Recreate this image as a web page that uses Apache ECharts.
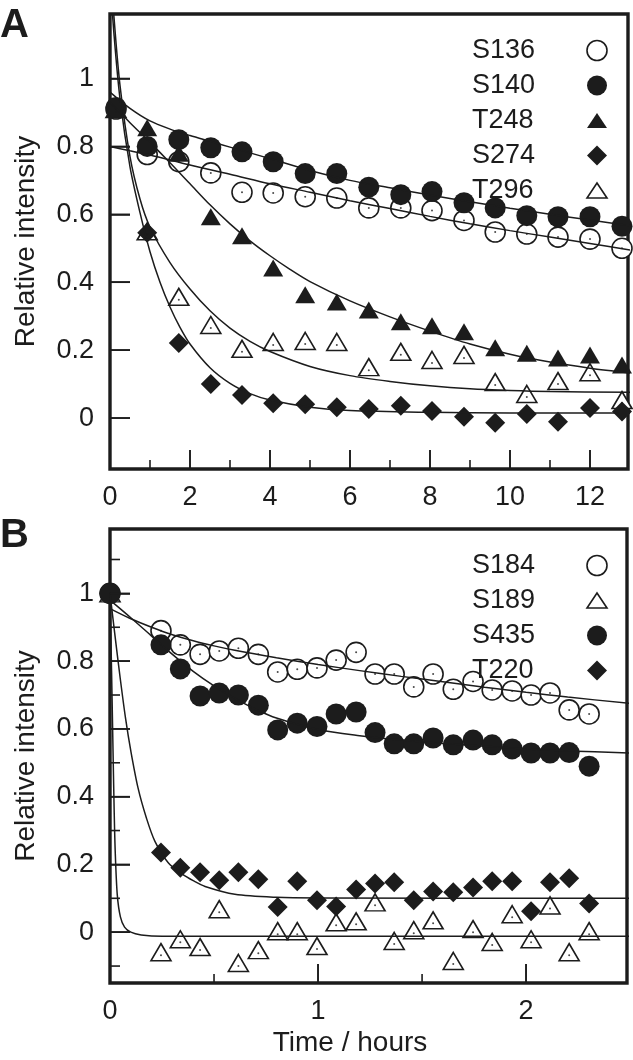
<!DOCTYPE html>
<html><head><meta charset="utf-8">
<script src="https://cdn.jsdelivr.net/npm/echarts@6/dist/echarts.min.js"></script>
<style>html,body{margin:0;padding:0;background:#fff}#a{width:633px;height:515px}#b{width:633px;height:545px}</style>
</head><body><div id="a"></div><div id="b"></div>
<script>
// ---------- Panel A data (time in hours) ----------
const tA = [0.15, 0.93, 1.72, 2.52, 3.3, 4.08, 4.88, 5.67, 6.47, 7.27, 8.05, 8.85, 9.63, 10.42, 11.2, 12.0, 12.8];
const S136 = [0.91, 0.776, 0.755, 0.722, 0.665, 0.663, 0.652, 0.648, 0.619, 0.619, 0.611, 0.582, 0.548, 0.542, 0.533, 0.527, 0.50];
const S140 = [0.915, 0.80, 0.82, 0.796, 0.784, 0.755, 0.72, 0.72, 0.68, 0.658, 0.667, 0.634, 0.619, 0.596, 0.593, 0.593, 0.565];
const T248 = [0.91, 0.855, 0.78, 0.593, 0.537, 0.442, 0.363, 0.342, 0.318, 0.284, 0.272, 0.254, 0.207, 0.191, 0.177, 0.186, 0.156];
const S274 = [0.91, 0.546, 0.221, 0.10, 0.068, 0.044, 0.041, 0.032, 0.027, 0.036, 0.021, 0.004, -0.014, 0.012, -0.011, 0.03, 0.019];
const T296 = [0.91, 0.55, 0.357, 0.274, 0.204, 0.224, 0.227, 0.224, 0.15, 0.195, 0.171, 0.186, 0.106, 0.071, 0.109, 0.135, 0.053];

// fitted curves, panel A
const fitS136_t = [0, 0.5, 1, 2, 3, 4, 5, 6, 7, 8, 9, 10, 11, 12, 13];
const fitS136_v = [0.80, 0.787, 0.775, 0.745, 0.718, 0.69, 0.665, 0.64, 0.617, 0.594, 0.572, 0.552, 0.533, 0.514, 0.495];
const fitS140_t = [0, 0.5, 1, 1.5, 2, 2.5, 3, 4, 5, 6, 7, 8, 9, 10, 11, 12, 13];
const fitS140_v = [0.96, 0.912, 0.875, 0.851, 0.832, 0.815, 0.798, 0.764, 0.729, 0.70, 0.678, 0.657, 0.637, 0.618, 0.60, 0.583, 0.566];
const fitT248_t = [0, 0.5, 1, 1.5, 2, 2.5, 3, 3.5, 4, 4.5, 5, 6, 7, 8, 9, 10, 11, 12, 13];
const fitT248_v = [0.93, 0.87, 0.812, 0.752, 0.69, 0.628, 0.572, 0.522, 0.478, 0.438, 0.402, 0.345, 0.298, 0.256, 0.218, 0.188, 0.165, 0.147, 0.133];
const fitS274_t = [0, 0.1, 0.25, 0.5, 0.75, 1, 1.25, 1.5, 1.75, 2, 2.5, 3, 3.5, 4, 5, 6, 8, 10, 13];
const fitS274_v = [1.3, 1.13, 0.94, 0.74, 0.605, 0.49, 0.40, 0.327, 0.267, 0.218, 0.148, 0.102, 0.072, 0.053, 0.032, 0.022, 0.017, 0.015, 0.015];
const fitT296_t = [0, 0.1, 0.25, 0.5, 0.75, 1, 1.5, 2, 2.5, 3, 3.5, 4, 5, 6, 7, 8, 9, 10, 11, 13];
const fitT296_v = [1.35, 1.18, 0.98, 0.77, 0.645, 0.562, 0.458, 0.38, 0.316, 0.265, 0.226, 0.196, 0.152, 0.125, 0.108, 0.095, 0.086, 0.081, 0.078, 0.076];

// ---------- Panel B data ----------
const tB = [0, 0.245, 0.338, 0.433, 0.525, 0.617, 0.713, 0.806, 0.9, 0.995, 1.087, 1.183, 1.274, 1.366, 1.46, 1.553, 1.65, 1.745, 1.837, 1.933, 2.024, 2.115, 2.207, 2.303];
const S184 = [1.0, 0.89, 0.848, 0.82, 0.83, 0.838, 0.82, 0.768, 0.776, 0.78, 0.803, 0.826, 0.762, 0.762, 0.724, 0.762, 0.717, 0.74, 0.715, 0.712, 0.70, 0.706, 0.656, 0.644];
const S189 = [1.0, -0.059, -0.021, -0.044, 0.068, -0.091, -0.053, 0.003, 0.003, -0.041, 0.029, 0.032, 0.088, -0.026, 0.006, 0.035, -0.085, 0.009, -0.029, 0.053, -0.021, 0.079, -0.059, 0.003];
const S435 = [1.0, 0.848, 0.777, 0.697, 0.706, 0.70, 0.67, 0.597, 0.617, 0.607, 0.644, 0.65, 0.589, 0.556, 0.556, 0.573, 0.553, 0.567, 0.553, 0.541, 0.529, 0.529, 0.53, 0.49];
const T220 = [1.0, 0.235, 0.19, 0.177, 0.153, 0.177, 0.156, 0.074, 0.15, 0.094, 0.076, 0.126, 0.144, 0.147, 0.094, 0.12, 0.118, 0.132, 0.15, 0.15, 0.062, 0.147, 0.159, 0.085];

const fitS184_t = [0, 0.1, 0.2, 0.3, 0.4, 0.5, 0.6, 0.8, 1.0, 1.2, 1.4, 1.6, 1.8, 2.0, 2.2, 2.5];
const fitS184_v = [0.955, 0.925, 0.9, 0.878, 0.86, 0.845, 0.832, 0.81, 0.79, 0.772, 0.755, 0.739, 0.723, 0.708, 0.694, 0.675];
const fitS435_t = [0, 0.1, 0.2, 0.3, 0.4, 0.5, 0.6, 0.7, 0.8, 1.0, 1.2, 1.4, 1.6, 1.8, 2.0, 2.2, 2.5];
const fitS435_v = [0.98, 0.928, 0.874, 0.82, 0.77, 0.727, 0.69, 0.658, 0.632, 0.598, 0.58, 0.567, 0.557, 0.549, 0.541, 0.535, 0.529];
const fitT220_t = [0, 0.025, 0.05, 0.075, 0.1, 0.135, 0.175, 0.216, 0.28, 0.346, 0.4, 0.457, 0.6, 0.8, 1.0, 2.5];
const fitT220_v = [1.0, 0.87, 0.745, 0.63, 0.535, 0.425, 0.337, 0.268, 0.205, 0.172, 0.152, 0.135, 0.112, 0.103, 0.101, 0.1];
const fitS189_t = [0, 0.005, 0.01, 0.015, 0.02, 0.025, 0.035, 0.05, 0.07, 0.1, 0.15, 0.25, 2.5];
const fitS189_v = [1.0, 0.85, 0.69, 0.52, 0.36, 0.24, 0.11, 0.045, 0.015, 0.0, -0.008, -0.012, -0.012];

// ---------- ticks ----------
const xMajorA = [0, 2, 4, 6, 8, 10, 12];
const xMinorA = [1, 3, 5, 7, 9, 11];
const xMajorB = [0, 1, 2];
const xMinorB = [0.5, 1.5];
const yMajor = [0, 0.2, 0.4, 0.6, 0.8, 1];
const yMinorB = [-0.1, 0.1, 0.3, 0.5, 0.7, 0.9, 1.1];

const FONT = '"Liberation Sans", Arial, Helvetica, sans-serif';
const INK = '#1c1c1c';
const TRI = 'path://M10,0 L20,17 L0,17 Z';
const TRI_LEG = 'path://M10,0 L20,15 L0,15 Z';
const hollow = { color: '#fff', borderColor: INK, borderWidth: 1.6 };
const solid = { color: INK, borderWidth: 0 };
const Y_MIN = -0.15, Y_MAX = 1.19;

function pts(xs, ys) { return xs.map((x, i) => [x, ys[i]]); }

function marks(name, xs, ys, symbol, size, filled) {
  return {
    type: 'scatter', name, data: pts(xs, ys), symbol, symbolSize: size, z: 3,
    itemStyle: filled ? { color: INK, opacity: 1 } : { color: '#fff', borderColor: INK, borderWidth: 1.6, opacity: 1 },
    emphasis: { disabled: true }, silent: true
  };
}
function dots(name, xs, ys, offset) {
  return {
    type: 'scatter', name: name + ' dot', data: pts(xs, ys), symbol: 'circle', symbolSize: 2,
    symbolOffset: offset || [0, 0], z: 4, itemStyle: { color: INK }, silent: true
  };
}
function curve(name, xs, ys) {
  return {
    type: 'line', name: name + ' fit', data: pts(xs, ys), showSymbol: false, symbol: 'none', smooth: 0.3, clip: true,
    lineStyle: { color: INK, width: 1.5 }, z: 5, silent: true
  };
}

function legendBox(top, items) {
  return {
    orient: 'vertical', left: 472, top, padding: 0, align: 'right', itemWidth: 20, itemHeight: 20, itemGap: 8,
    selectedMode: false, symbolKeepAspect: true,
    formatter: '{n|{name}}',
    textStyle: {
      fontFamily: FONT, fontSize: 27, color: INK, lineHeight: 20,
      rich: { n: { fontFamily: FONT, fontSize: 27, color: INK, width: 110, height: 20, lineHeight: 20, align: 'left' } }
    },
    data: items
  };
}

function panel(cfg) {
  return {
    animation: false,
    grid: { left: 110, top: 14, width: cfg.width, height: cfg.height, show: true, borderColor: INK, borderWidth: 3.4 },
    xAxis: {
      type: 'value', min: 0, max: cfg.xMax, position: 'bottom',
      axisLine: { show: false, onZero: false }, splitLine: { show: false },
      axisTick: { show: true, inside: true, length: 19, customValues: cfg.xMajor, lineStyle: { color: INK, width: 1.6 } },
      axisLabel: { customValues: cfg.xMajor, margin: 15, fontFamily: FONT, fontSize: 27, color: INK }
    },
    yAxis: {
      type: 'value', min: Y_MIN, max: Y_MAX, position: 'left',
      axisLine: { show: false, onZero: false }, splitLine: { show: false },
      axisTick: { show: true, inside: true, length: 20, customValues: yMajor, lineStyle: { color: INK, width: 1.6 } },
      axisLabel: { customValues: yMajor, margin: 16, fontFamily: FONT, fontSize: 27, color: INK },
      name: 'Relative intensity', nameLocation: 'middle', nameGap: 70,
      nameTextStyle: { fontFamily: FONT, fontSize: 28, color: INK }
    },
    legend: legendBox(37, cfg.legend),
    graphic: cfg.graphic,
    series: cfg.series
  };
}

// tick marks placed through the chart's own scales (convertToPixel), drawn on top as graphic lines
function tickGraphics(chart, xMin, xMax, xMajor, xMinor, yMajorVals, yMinorVals, prefix) {
  const els = [];
  const px = (x, y) => chart.convertToPixel({ xAxisIndex: 0, yAxisIndex: 0 }, [x, y]);
  const bottom = px(xMin, Y_MIN)[1];
  const left = px(xMin, Y_MIN)[0];
  const addX = (vals, len, tag) => vals.forEach((v, i) => {
    const x = px(v, Y_MIN)[0];
    els.push({ type: 'line', id: prefix + tag + i, silent: true, z: 50,
      shape: { x1: x, y1: bottom, x2: x, y2: bottom - len }, style: { stroke: INK, lineWidth: 1.6 } });
  });
  const addY = (vals, len, tag) => vals.forEach((v, i) => {
    const y = px(xMin, v)[1];
    els.push({ type: 'line', id: prefix + tag + i, silent: true, z: 50,
      shape: { x1: left, y1: y, x2: left + len, y2: y }, style: { stroke: INK, lineWidth: 1.6 } });
  });
  addX(xMajor, 19, 'xM'); addX(xMinor, 9, 'xm');
  addY(yMajorVals, 20, 'yM'); addY(yMinorVals, 10, 'ym');
  return els;
}

const optionA = panel({
  width: 518, height: 455, xMax: 12.95, xMajor: xMajorA,
  legend: [
    { name: 'S136', icon: 'circle', itemStyle: hollow },
    { name: 'S140', icon: 'circle', itemStyle: solid },
    { name: 'T248', icon: TRI_LEG, itemStyle: solid },
    { name: 'S274', icon: 'diamond', itemStyle: solid },
    { name: 'T296', icon: TRI_LEG, itemStyle: hollow }
  ],
  graphic: [{ type: 'text', id: 'labA', left: 0, top: 6, style: { text: 'A', font: 'bold 40px ' + FONT, fill: INK } }],
  series: [
    marks('S136', tA, S136, 'circle', 20, false),
    marks('T296', tA, T296, TRI, [20, 17], false),
    marks('S274', tA, S274, 'diamond', 20, true),
    marks('T248', tA, T248, TRI, [20, 17], true),
    marks('S140', tA, S140, 'circle', 21, true),
    dots('S136', tA, S136),
    dots('T296', tA, T296, [0, 3]),
    curve('S136', fitS136_t, fitS136_v),
    curve('S140', fitS140_t, fitS140_v),
    curve('T248', fitT248_t, fitT248_v),
    curve('S274', fitS274_t, fitS274_v),
    curve('T296', fitT296_t, fitT296_v)
  ]
});

const optionB = panel({
  width: 517, height: 454, xMax: 2.485, xMajor: xMajorB,
  legend: [
    { name: 'S184', icon: 'circle', itemStyle: hollow },
    { name: 'S189', icon: TRI_LEG, itemStyle: hollow },
    { name: 'S435', icon: 'circle', itemStyle: solid },
    { name: 'T220', icon: 'diamond', itemStyle: solid }
  ],
  graphic: [
    { type: 'text', id: 'labB', left: 0, top: 1, style: { text: 'B', font: 'bold 40px ' + FONT, fill: INK } },
    { type: 'text', id: 'xname', x: 350, y: 528, style: { text: 'Time / hours', font: '28px ' + FONT, fill: INK, align: 'center', verticalAlign: 'middle' } }
  ],
  series: [
    marks('S189', tB, S189, TRI, [20, 17], false),
    marks('T220', tB, T220, 'diamond', 20, true),
    marks('S184', tB, S184, 'circle', 20, false),
    marks('S435', tB, S435, 'circle', 21, true),
    dots('S184', tB, S184),
    dots('S189', tB, S189, [0, 3]),
    curve('S184', fitS184_t, fitS184_v),
    curve('S189', fitS189_t, fitS189_v),
    curve('S435', fitS435_t, fitS435_v),
    curve('T220', fitT220_t, fitT220_v)
  ]
});

const chartA = echarts.init(document.getElementById('a'), null, { renderer: 'canvas' });
chartA.setOption(optionA);
chartA.setOption({ graphic: optionA.graphic.concat(tickGraphics(chartA, 0, 12.95, xMajorA, xMinorA, yMajor, [], 'A')) });

const chartB = echarts.init(document.getElementById('b'), null, { renderer: 'canvas' });
chartB.setOption(optionB);
chartB.setOption({ graphic: optionB.graphic.concat(tickGraphics(chartB, 0, 2.485, xMajorB, xMinorB, yMajor, yMinorB, 'B')) });
</script>
</body></html>
